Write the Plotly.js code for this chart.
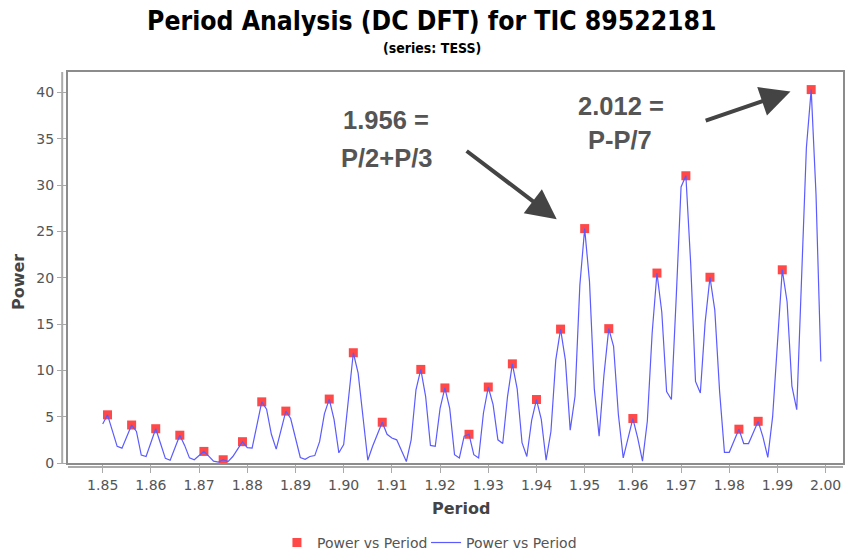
<!DOCTYPE html>
<html>
<head>
<meta charset="utf-8">
<script src="https://cdn.plot.ly/plotly-3.0.1.min.js"></script>
<style>html,body{margin:0;padding:0;background:#fff;}#chart{width:850px;height:554px;}</style>
</head>
<body>
<div id="chart"></div>
<script>
// Period values of the DC DFT spectrum
var periods = [
1.850,1.851,1.852,1.853,1.854,1.855,1.856,1.857,1.858,1.859,
1.860,1.861,1.862,1.863,1.864,1.865,1.866,1.867,1.868,1.869,
1.870,1.871,1.872,1.873,1.874,1.875,1.876,1.877,1.878,1.879,
1.880,1.881,1.882,1.883,1.884,1.885,1.886,1.887,1.888,1.889,
1.890,1.891,1.892,1.893,1.894,1.895,1.896,1.897,1.898,1.899,
1.900,1.901,1.902,1.903,1.904,1.905,1.906,1.907,1.908,1.909,
1.910,1.911,1.912,1.913,1.914,1.915,1.916,1.917,1.918,1.919,
1.920,1.921,1.922,1.923,1.924,1.925,1.926,1.927,1.928,1.929,
1.930,1.931,1.932,1.933,1.934,1.935,1.936,1.937,1.938,1.939,
1.940,1.941,1.942,1.943,1.944,1.945,1.946,1.947,1.948,1.949,
1.950,1.951,1.952,1.953,1.954,1.955,1.956,1.957,1.958,1.959,
1.960,1.961,1.962,1.963,1.964,1.965,1.966,1.967,1.968,1.969,
1.970,1.971,1.972,1.973,1.974,1.975,1.976,1.977,1.978,1.979,
1.980,1.981,1.982,1.983,1.984,1.985,1.986,1.987,1.988,1.989,
1.990,1.991,1.992,1.993,1.994,1.995,1.996,1.997,1.998,1.999
];
// Power values
var power = [
4.2,5.2,3.5,1.8,1.6,2.9,4.1,3.4,0.85,0.7,
2.2,3.7,2.1,0.5,0.3,1.6,3.0,1.9,0.55,0.35,
0.8,1.25,0.75,0.2,0.1,0.35,0.15,0.7,1.5,2.3,
1.65,1.6,4.1,6.6,5.8,3.1,1.5,3.5,5.6,4.8,
2.7,0.6,0.4,0.7,0.8,2.3,5.3,6.9,4.7,1.1,
2.0,7.2,11.9,9.7,5.0,0.3,1.8,3.1,4.4,3.1,
2.7,2.5,1.3,0.15,2.5,7.9,10.1,7.2,1.9,1.8,
5.9,8.1,5.9,0.9,0.55,2.9,3.1,0.9,0.55,5.4,
8.2,6.3,2.5,2.1,7.2,10.7,8.0,2.2,0.7,4.6,
6.85,4.7,0.3,3.4,11.1,14.45,11.1,3.55,7.2,19.2,
25.3,19.6,8.0,2.9,9.5,14.5,12.6,5.2,0.55,2.7,
4.8,2.7,0.2,4.5,14.0,20.5,16.3,7.7,6.85,17.9,
29.8,31.0,21.5,8.8,7.55,15.2,20.05,16.5,7.7,1.15,
1.15,2.4,3.65,2.1,2.1,3.3,4.5,2.8,0.6,5.0,
13.5,20.85,17.4,8.3,5.75,21.0,34.0,40.3,29.0,10.95
];
// Local peaks marked with squares
var peakPeriods = [1.851,1.856,1.861,1.866,1.871,1.875,1.879,1.883,1.888,1.897,
1.902,1.908,1.916,1.921,1.926,1.930,1.935,1.940,1.945,1.950,
1.955,1.960,1.965,1.971,1.976,1.982,1.986,1.991,1.997];
var peakPower = [5.2,4.1,3.7,3.0,1.25,0.35,2.3,6.6,5.6,6.9,
11.9,4.4,10.1,8.1,3.1,8.2,10.7,6.85,14.45,25.3,
14.5,4.8,20.5,31.0,20.05,3.65,4.5,20.85,40.3];
var xTicks = [1.85,1.86,1.87,1.88,1.89,1.90,1.91,1.92,1.93,1.94,1.95,1.96,1.97,1.98,1.99,2.00];
var xTickText = ['1.85','1.86','1.87','1.88','1.89','1.90','1.91','1.92','1.93','1.94','1.95','1.96','1.97','1.98','1.99','2.00'];
var yTicks = [0,5,10,15,20,25,30,35,40];

var traces = [
  {x: peakPeriods, y: peakPower, type: 'scatter', mode: 'markers', name: 'Power vs Period',
   legend: 'legend', marker: {symbol: 'square', size: 9, color: '#ff4848'}},
  {x: periods, y: power, type: 'scatter', mode: 'lines', name: 'Power vs Period',
   legend: 'legend2', line: {color: '#5b5bff', width: 1.2}}
];

var axisGray = '#aaaaaa';
var noteFont = {family: 'Liberation Sans, Arial, sans-serif', size: 25.5, weight: 'bold', color: '#555555'};
var axisTitleFont = {family: 'DejaVu Sans, sans-serif', size: 16, color: '#444444', weight: 'bold'};
var legendBase = {orientation: 'h', xanchor: 'left', yref: 'container', y: 0.02, yanchor: 'middle',
  font: {size: 14, color: '#555555'}, bgcolor: 'rgba(0,0,0,0)', itemwidth: 30};
var layout = {
  width: 850, height: 554,
  margin: {l: 68, r: 7, t: 72, b: 91},
  paper_bgcolor: '#ffffff', plot_bgcolor: '#ffffff',
  font: {family: 'DejaVu Sans, sans-serif', color: '#555555'},
  title: {text: 'Period Analysis (DC DFT) for TIC 89522181',
    x: 0.508, xanchor: 'center', y: 0.962, yanchor: 'middle',
    font: {family: 'DejaVu Sans Condensed, DejaVu Sans, sans-serif', size: 26.3, weight: 'bold', color: '#000000'}},
  xaxis: {range: [1.8428, 2.0036], tickvals: xTicks, ticktext: xTickText,
    ticks: 'outside', ticklen: 8, tickcolor: axisGray, tickwidth: 1,
    showgrid: false, zeroline: false, showline: true, mirror: true, linecolor: '#8c8c8c', linewidth: 2,
    tickfont: {size: 14, color: '#555555'}},
  yaxis: {range: [0, 42.2], tickvals: yTicks,
    ticks: 'outside', ticklen: 9, tickcolor: axisGray, tickwidth: 1,
    showgrid: false, zeroline: false, showline: true, mirror: true, linecolor: '#8c8c8c', linewidth: 2,
    tickfont: {size: 14, color: '#555555'}},
  showlegend: true,
  legend: Object.assign({}, legendBase, {x: 0.2696}),
  legend2: Object.assign({}, legendBase, {x: 0.4620}),
  shapes: [
    {type: 'line', xref: 'paper', yref: 'paper', x0: 0, x1: 1, y0: -0.0105, y1: -0.0105,
     line: {color: axisGray, width: 2}},
    {type: 'line', xref: 'paper', yref: 'paper', x0: -0.0075, x1: -0.0075, y0: 0, y1: 1,
     line: {color: axisGray, width: 2}}
  ],
  annotations: [
    {xref: 'paper', yref: 'paper', x: 0.4697, y: 1.062, xanchor: 'center', yanchor: 'middle',
     text: '(series: TESS)', showarrow: false,
     font: {family: 'DejaVu Sans Condensed, DejaVu Sans, sans-serif', size: 14, weight: 'bold', color: '#000000'}},
    {xref: 'paper', yref: 'paper', x: 0.5077, y: -0.1151, xanchor: 'center', yanchor: 'middle',
     text: 'Period', showarrow: false, font: axisTitleFont},
    {xref: 'paper', yref: 'paper', x: -0.0645, y: 0.4629, xanchor: 'center', yanchor: 'middle',
     text: 'Power', textangle: -90, showarrow: false, font: axisTitleFont},
    {xref: 'paper', yref: 'paper', x: 0.4103, y: 0.8772, xanchor: 'center', yanchor: 'middle',
     text: '1.956 =', showarrow: false, font: noteFont},
    {xref: 'paper', yref: 'paper', x: 0.4116, y: 0.7801, xanchor: 'center', yanchor: 'middle',
     text: 'P/2+P/3', showarrow: false, font: noteFont},
    {xref: 'paper', yref: 'paper', x: 0.7135, y: 0.9130, xanchor: 'center', yanchor: 'middle',
     text: '2.012 =', showarrow: false, font: noteFont},
    {xref: 'paper', yref: 'paper', x: 0.7123, y: 0.8261, xanchor: 'center', yanchor: 'middle',
     text: 'P-P/7', showarrow: false, font: noteFont},
    {xref: 'x', yref: 'y', x: 1.9442, y: 26.3, axref: 'x', ayref: 'y', ax: 1.9252, ay: 33.8,
     text: '', showarrow: true, arrowhead: 2, arrowsize: 1.5, arrowwidth: 4, arrowcolor: '#444444', standoff: 0},
    {xref: 'x', yref: 'y', x: 1.9927, y: 40.1, axref: 'x', ayref: 'y', ax: 1.9748, ay: 36.9,
     text: '', showarrow: true, arrowhead: 2, arrowsize: 1.5, arrowwidth: 4, arrowcolor: '#444444', standoff: 0}
  ]
};

Plotly.newPlot('chart', traces, layout, {displayModeBar: false, staticPlot: true});
</script>
</body>
</html>
